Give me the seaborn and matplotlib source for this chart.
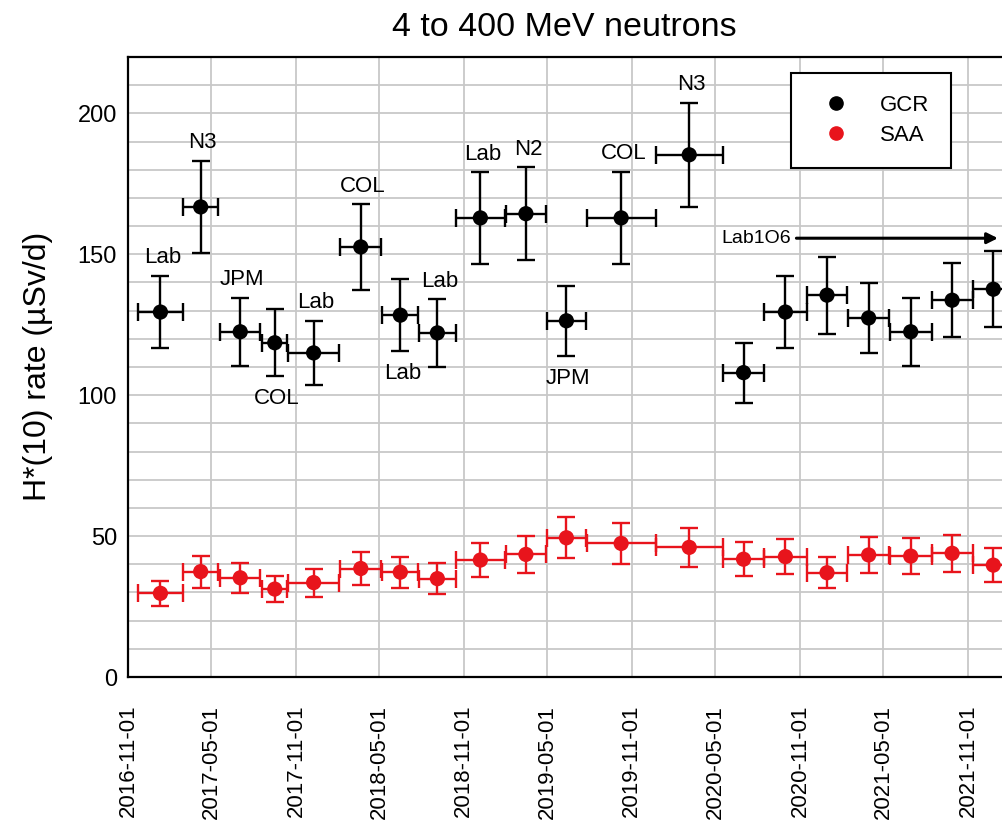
import matplotlib
matplotlib.use("Agg")
import matplotlib.pyplot as plt
import matplotlib.dates as mdates
from matplotlib.ticker import MultipleLocator
from matplotlib.lines import Line2D
import numpy as np
import pandas as pd
import seaborn as sns

# ---------------- data ----------------
period_start = ["2016-11-22", "2017-03-01", "2017-05-20", "2017-08-20", "2017-10-15",
                "2018-02-05", "2018-05-08", "2018-07-27", "2018-10-14", "2019-01-31",
                "2019-04-30", "2019-07-26", "2019-12-23", "2020-05-17", "2020-08-15",
                "2020-11-15", "2021-02-14", "2021-05-15", "2021-08-14", "2021-11-11"]
period_end = ["2017-03-01", "2017-05-16", "2017-08-16", "2017-10-13", "2018-02-03",
              "2018-05-06", "2018-07-25", "2018-10-14", "2019-01-30", "2019-04-29",
              "2019-07-25", "2019-12-23", "2020-05-17", "2020-08-15", "2020-11-15",
              "2021-02-12", "2021-05-13", "2021-08-14", "2021-11-11", "2022-02-09"]
gcr_values = [129.5, 166.8, 122.5, 118.6, 115.0, 152.6, 128.4, 122.1, 162.9, 164.4,
              126.4, 162.9, 185.3, 108.0, 129.5, 135.5, 127.4, 122.5, 133.7, 137.6]
gcr_errors = [12.9, 16.4, 12.1, 11.9, 11.5, 15.2, 12.8, 12.0, 16.2, 16.4,
              12.5, 16.3, 18.4, 10.6, 12.9, 13.7, 12.5, 12.1, 13.2, 13.5]
saa_values = [29.7, 37.4, 35.2, 31.2, 33.5, 38.5, 37.2, 34.9, 41.5, 43.5,
              49.4, 47.4, 46.0, 41.8, 42.7, 37.0, 43.3, 42.9, 43.9, 39.7]
saa_errors = [4.4, 5.7, 5.3, 4.7, 5.0, 5.7, 5.5, 5.4, 6.1, 6.5,
              7.3, 7.2, 6.8, 6.1, 6.2, 5.5, 6.4, 6.3, 6.5, 6.0]
location_labels = ["Lab", "N3", "JPM", "COL", "Lab", "COL", "Lab", "Lab", "Lab", "N2",
                   "JPM", "COL", "N3"]
label_side = ["up", "up", "up", "down", "up", "up", "down", "up", "up", "up",
              "down", "up", "up"]
arrow_label = "Lab1O6"
arrow_start, arrow_end, arrow_level = "2020-10-24", "2022-01-05", 155.7
series_names = ["GCR", "SAA"]
title = "4 to 400 MeV neutrons"
ylabel = "H*(10) rate (µSv/d)"

# ---------------- figure ----------------
sns.set_theme(style="white")
plt.rcParams["font.family"] = ["Liberation Sans", "DejaVu Sans"]
plt.rcParams["text.color"] = "black"
plt.rcParams["axes.labelcolor"] = "black"
plt.rcParams["xtick.color"] = "black"
plt.rcParams["ytick.color"] = "black"
RED = "#e8141c"

W, H = 1002, 822
fig = plt.figure(figsize=(W / 100, H / 100), dpi=100)
x0 = mdates.date2num(pd.Timestamp("2016-11-01"))
x1 = mdates.date2num(pd.Timestamp("2022-04-20"))
px_per_day = 840 / 1826.0
ax = fig.add_axes([128 / W, 145 / H, (x1 - x0) * px_per_day / W, 620 / H])

s = mdates.date2num(pd.to_datetime(period_start))
e = mdates.date2num(pd.to_datetime(period_end))
xc = (s + e) / 2
xh = (e - s) / 2

df = pd.DataFrame({
    "date": np.concatenate([xc, xc]),
    "rate": np.concatenate([gcr_values, saa_values]),
    "source": [series_names[0]] * len(xc) + [series_names[1]] * len(xc),
})
palette = {series_names[0]: "black", series_names[1]: RED}

ax.errorbar(xc, gcr_values, yerr=gcr_errors, xerr=xh, fmt="none", ecolor="black",
            elinewidth=1.7, capsize=6.5, capthick=1.7, zorder=2)
ax.errorbar(xc, saa_values, yerr=saa_errors, xerr=xh, fmt="none", ecolor=RED,
            elinewidth=1.7, capsize=6.5, capthick=1.7, zorder=2)
sns.scatterplot(data=df, x="date", y="rate", hue="source", palette=palette, s=120,
                linewidth=0, legend=False, ax=ax, zorder=3)

# annotations of location
for i, lab in enumerate(location_labels):
    if label_side[i] == "up":
        ax.annotate(lab, xy=(xc[i], gcr_values[i] + gcr_errors[i]), xytext=(1.5, 13),
                    textcoords="offset points", ha="center", va="center", fontsize=16,
                    color="black")
    else:
        ax.annotate(lab, xy=(xc[i], gcr_values[i] - gcr_errors[i]), xytext=(1.5, -16),
                    textcoords="offset points", ha="center", va="center", fontsize=16,
                    color="black")

a0 = mdates.date2num(pd.Timestamp(arrow_start))
a1 = mdates.date2num(pd.Timestamp(arrow_end))
ax.annotate("", xy=(a1, arrow_level), xytext=(a0, arrow_level),
            arrowprops=dict(arrowstyle="-|>", lw=2.2, color="black", mutation_scale=16,
                            shrinkA=0, shrinkB=0))
ax.annotate(arrow_label, xy=(a0, arrow_level), xytext=(-4, 0), textcoords="offset points",
            ha="right", va="center", fontsize=14, color="black")

# axes styling
ax.set_xlim(x0, x1)
ax.set_ylim(0, 220)
ax.xaxis.set_major_locator(mdates.MonthLocator(bymonth=[5, 11]))
ax.xaxis.set_minor_locator(mdates.MonthLocator(bymonth=[1, 3, 5, 7, 9, 11]))
ax.xaxis.set_major_formatter(mdates.DateFormatter("%Y-%m-%d"))
ax.yaxis.set_major_locator(MultipleLocator(50))
ax.yaxis.set_minor_locator(MultipleLocator(10))
ax.set_xlabel("")
ax.set_ylabel("")
ax.grid(axis="x", which="major", color="#c8c8c8", linewidth=1.3)
ax.grid(axis="y", which="both", color="#c8c8c8", linewidth=1.3)
ax.set_axisbelow(True)
ax.tick_params(axis="x", which="major", direction="in", length=6, width=1.5,
               labelsize=16, pad=20, labelrotation=90, colors="black")
ax.tick_params(axis="x", which="minor", direction="in", length=3, width=1.5)
ax.tick_params(axis="y", which="major", direction="in", length=6, width=1.5,
               labelsize=17, pad=8, colors="black")
ax.tick_params(axis="y", which="minor", length=0)
for side in ["left", "bottom", "top", "right"]:
    ax.spines[side].set_color("black")
    ax.spines[side].set_linewidth(1.6)

handles = [Line2D([], [], marker="o", ls="", color=palette[n], markersize=9.5, label=n)
           for n in series_names]
leg = ax.legend(handles=handles, loc="upper left",
                bbox_to_anchor=(790.7 / W, 1 - 72.7 / H), bbox_transform=fig.transFigure,
                borderaxespad=0, fontsize=16, frameon=True, fancybox=False, shadow=False,
                borderpad=1.0, labelspacing=0.4, handlelength=2.1, handletextpad=0.9)
leg.get_frame().set_edgecolor("black")
leg.get_frame().set_linewidth(1.5)
leg.get_frame().set_alpha(1)
for t in leg.get_texts():
    t.set_color("black")

fig.text(564 / W, 1 - 28 / H, title, ha="center", va="center", fontsize=24.5, color="black")
fig.text(38 / W, 1 - 366.5 / H, ylabel, rotation=90, ha="center", va="center",
         fontsize=23, color="black")

fig.savefig("out.png", dpi=100)
